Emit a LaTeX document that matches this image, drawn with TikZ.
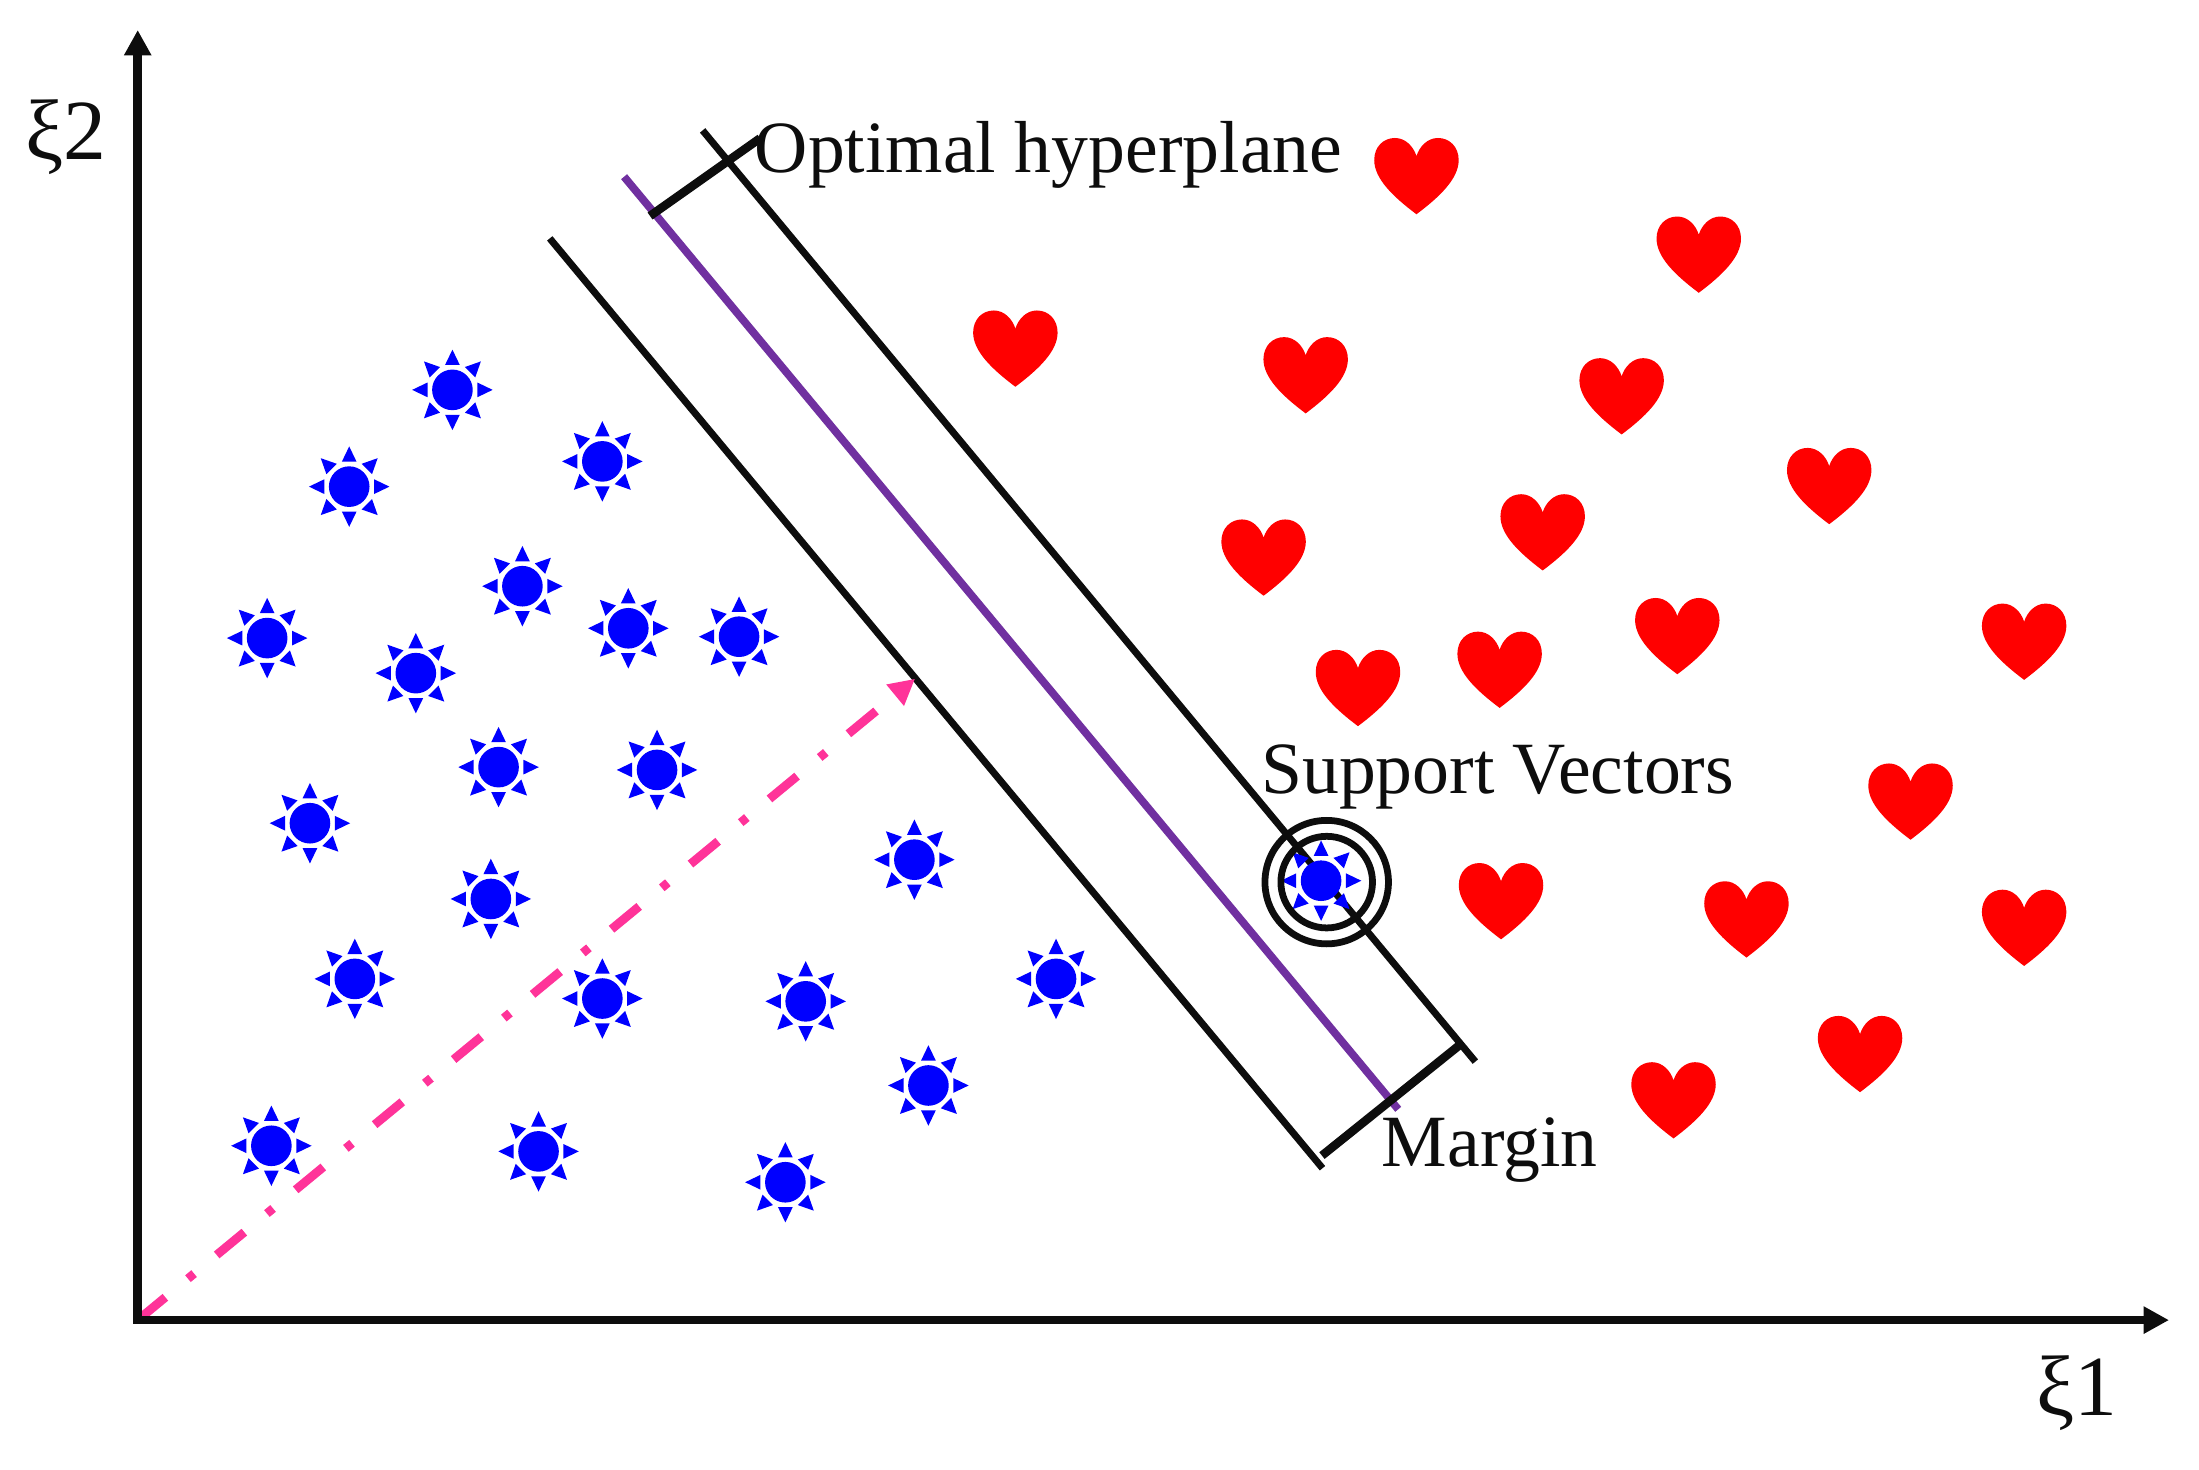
\documentclass[tikz,border=0pt]{standalone}
\usepackage{fontspec}
\setmainfont{Liberation Serif}
\usetikzlibrary{arrows.meta}
\definecolor{inkblack}{HTML}{0D0D0D}
\definecolor{svmpurple}{HTML}{7030A0}
\definecolor{svmpink}{HTML}{FF3399}
\tikzset{
  axisline/.style={draw=inkblack,line width=4.4pt,miter limit=10,{Triangle[length=12.8pt,width=13pt]}-{Triangle[length=12.8pt,width=13pt]}},
  marginline/.style={draw=inkblack,line width=3.5pt},
  bracketline/.style={draw=inkblack,line width=4.3pt},
  hyperline/.style={draw=svmpurple,line width=3.9pt},
  normalline/.style={draw=svmpink,line width=4.4pt,dash pattern=on 18pt off 14.7pt on 4pt off 14.7pt,-{Triangle[length=13pt,width=13pt]}},
  ringline/.style={draw=inkblack,line width=3.4pt},
  labeltext/.style={inner sep=0pt,anchor=base west,font=\fontsize{37}{40}\selectfont,text=inkblack},
  axislabel/.style={inner sep=0pt,anchor=base west,font=\fontsize{43}{46}\selectfont,text=inkblack},
  sunstar/.pic={
    \fill[blue] (0,0) circle[radius=10.2pt];
    \foreach \a in {0,45,...,315}
      \fill[blue,rotate=\a] (12.5pt,-3.7pt) -- (20.2pt,0pt) -- (12.5pt,3.7pt) -- cycle;
  },
  heartmark/.pic={
    \fill[red] (0pt,-19pt) .. controls (-12pt,-10pt) and (-21.2pt,-1pt) .. (-21.2pt,8.2pt)
      .. controls (-21.2pt,15pt) and (-16.5pt,19.3pt) .. (-10.8pt,19.3pt)
      .. controls (-5.5pt,19.3pt) and (-1.5pt,15pt) .. (0pt,10.2pt)
      .. controls (1.5pt,15pt) and (5.5pt,19.3pt) .. (10.8pt,19.3pt)
      .. controls (16.5pt,19.3pt) and (21.2pt,15pt) .. (21.2pt,8.2pt)
      .. controls (21.2pt,-1pt) and (12pt,-10pt) .. (0pt,-19pt) -- cycle;
  },
}
\begin{document}
\begin{tikzpicture}[x=0.70416pt,y=-0.70416pt]
\useasboundingbox (0,0) rectangle (1568,1047.7);
% named points
\coordinate (O) at (98.2,941.3);
\coordinate (ytip) at (98.2,21.4);
\coordinate (xtip) at (1546.6,941.3);
\coordinate (ml1) at (392,170);
\coordinate (ml2) at (943,833);
\coordinate (mr1) at (501,93);
\coordinate (mr2) at (1052,757);
\coordinate (h1) at (445,126);
\coordinate (h2) at (997,791);
\coordinate (bt1) at (463.5,154);
\coordinate (bt2) at (542,98.6);
\coordinate (bb1) at (942.6,824);
\coordinate (bb2) at (1041,745);
\coordinate (ntip) at (652.5,484);
\coordinate (sv) at (946,629);
% margins and hyperplane
\draw[marginline] (ml1) -- (ml2);
\draw[marginline] (mr1) -- (mr2);
\draw[hyperline] (h1) -- (h2);
\draw[bracketline] (bt1) -- (bt2);
\draw[bracketline] (bb1) -- (bb2);
% class markers
\foreach \n/\x/\y in {a/322.6/278,b/249/347,c/429.5/329,d/372.5/418,e/190.5/455,f/296.5/480,g/448/448,h/527/454,i/355.5/547,j/468.5/549,k/221/587,l/350/641,m/652/613,n/253/698,o/429.5/712,p/574.5/714,q/753/698,r/662/774,s/193.5/817,t/384/821,u/560/843,v/942/628}
  \pic (star\n) at (\x,\y) {sunstar};
\foreach \n/\x/\y in {a/1010/125.8,b/1211.3/181.8,c/724/248.8,d/931/267.8,e/1156.3/282.8,f/1304.3/346.8,g/901/397.8,h/1100/379.8,i/1196/453.8,j/1443.3/457.8,k/1069.3/477.8,l/968.3/490.8,m/1362.3/571.8,n/1070.3/642.8,o/1245.3/655.8,p/1443.3/661.8,q/1326.3/751.8,r/1193.3/784.8}
  \pic (heart\n) at (\x,\y) {heartmark};
% support vector rings
\draw[ringline] (sv) circle[radius=31pt];
\draw[ringline] (sv) circle[radius=23pt];
% normal vector
\draw[normalline] (O) -- (ntip);
% axes
\draw[axisline] (ytip) -- (O) -- (xtip);
% labels
\node[axislabel] (lx2) at (18,114) {ξ2};
\node[axislabel] (lx1) at (1451.6,1009) {ξ1};
\node[labeltext] (lopt) at (538,123) {Optimal hyperplane};
\node[labeltext] (lsup) at (899,565.5) {Support Vectors};
\node[labeltext] (lmar) at (985,832) {Margin};
\end{tikzpicture}
\end{document}
